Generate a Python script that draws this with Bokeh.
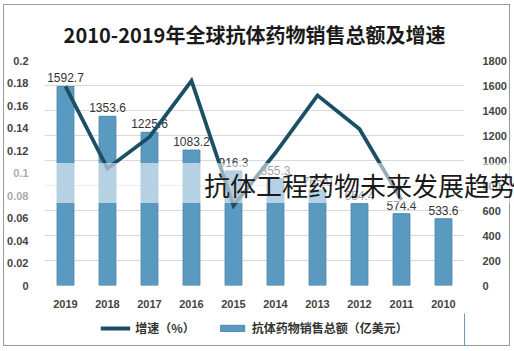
from bokeh.plotting import figure
from bokeh.layouts import column
from bokeh.models import (Range1d, LinearAxis, FixedTicker, ColumnDataSource, Legend,
                          LegendItem, FactorRange, Div)
from bokeh.core.properties import value
from bokeh.embed import file_html
from bokeh.resources import INLINE

# ---- data (layout of reference is mirrored: newest year on the left) ----
years = ["2019", "2018", "2017", "2016", "2015", "2014", "2013", "2012", "2011", "2010"]
sales = [1592.7, 1353.6, 1225.6, 1083.2, 916.3, 855.3, 765.0, 654.4, 574.4, 533.6]
growth_years = ["2019", "2018", "2017", "2016", "2015", "2014", "2013", "2012", "2011"]
growth = [0.177, 0.104, 0.132, 0.182, 0.071, 0.118, 0.169, 0.139, 0.076]
sales_ticks = [0, 200, 400, 600, 800, 1000, 1200, 1400, 1600, 1800]
growth_ticks = [0, 0.02, 0.04, 0.06, 0.08, 0.1, 0.12, 0.14, 0.16, 0.18, 0.2]
growth_tick_labels = ["0", "0.02", "0.04", "0.06", "0.08", "0.1", "0.12", "0.14", "0.16", "0.18", "0.2"]
title_text = "2010-2019年全球抗体药物销售总额及增速"
sales_name = "抗体药物销售总额（亿美元）"
growth_name = "增速（%）"
watermark = "抗体工程药物未来发展趋势"

BAR_FILL = "#5b9ac0"
BAR_LINE = "#4a87ab"
LINE_COLOR = "#1b4f66"

sales_labels = ["%.1f" % v for v in sales]
src = ColumnDataSource(dict(x=years, y=sales, lab=sales_labels))
gsrc = ColumnDataSource(dict(x=growth_years, y=growth))

p = figure(width=505, height=308, output_backend="svg", toolbar_location=None,
           x_range=FactorRange(factors=years, range_padding=0),
           y_range=Range1d(0, 1800), y_axis_location="right",
           min_border_left=39, min_border_right=43, min_border_top=52, min_border_bottom=28)
p.extra_y_ranges = {"g": Range1d(0, 0.2)}

p.title.text = title_text
p.title.align = "center"
p.title.text_font = "Noto Sans CJK SC"
p.title.text_font_size = "20px"
p.title.text_font_style = "bold"
p.title.text_color = "#1a1a1a"
p.title.standoff = 24

p.outline_line_color = None
p.xgrid.grid_line_color = None
p.ygrid.grid_line_color = "#d9d9d9"
p.ygrid.ticker = FixedTicker(ticks=sales_ticks)

# right axis (sales)
ra = p.yaxis[0]
ra.ticker = FixedTicker(ticks=sales_ticks)
ra.axis_line_color = None
ra.major_tick_line_color = None
ra.minor_tick_line_color = None
ra.major_label_text_font = "Liberation Sans"
ra.major_label_text_font_size = "11px"
ra.major_label_text_font_style = "bold"
ra.major_label_text_color = "#444444"
ra.major_label_standoff = 12

# left axis (growth)
la = LinearAxis(y_range_name="g", ticker=FixedTicker(ticks=growth_ticks),
                major_label_overrides={t: l for t, l in zip(growth_ticks, growth_tick_labels)})
la.axis_line_color = None
la.major_tick_line_color = None
la.minor_tick_line_color = None
la.major_label_text_font = "Liberation Sans"
la.major_label_text_font_size = "11px"
la.major_label_text_font_style = "bold"
la.major_label_text_color = "#444444"
la.major_label_standoff = 10
p.add_layout(la, "left")

xa = p.xaxis[0]
xa.axis_line_color = None
xa.major_tick_line_color = None
xa.minor_tick_line_color = None
xa.major_label_text_font = "Liberation Sans"
xa.major_label_text_font_size = "11px"
xa.major_label_text_font_style = "bold"
xa.major_label_text_color = "#444444"
xa.major_label_standoff = 8

bars = p.vbar(x="x", top="y", width=0.4, source=src, fill_color=BAR_FILL,
              line_color=BAR_LINE, line_width=1)
p.text(x="x", y="y", text="lab", source=src, text_align="center", text_baseline="bottom",
       y_offset=-4, text_font=value("Liberation Sans"), text_font_size="12px",
       text_color="#333333")
ln = p.line(x="x", y="y", source=gsrc, y_range_name="g", line_color=LINE_COLOR,
            line_width=3.8, line_join="miter")

# legend in a separate strip below
lg = figure(width=505, height=32, output_backend="svg", toolbar_location=None,
            x_range=Range1d(0, 1), y_range=Range1d(0, 1),
            min_border=0, outline_line_color=None)
lg.axis.visible = False
lg.grid.visible = False
hidden = ColumnDataSource(dict(x=[5, 6], y=[5, 5]))
l_ln = lg.line(x="x", y="y", source=hidden, line_color=LINE_COLOR, line_width=3.8)
l_bar = lg.vbar(x="x", top="y", width=0.1, source=hidden, fill_color=BAR_FILL,
                line_color=BAR_LINE)
legend = Legend(items=[LegendItem(label=growth_name, renderers=[l_ln]),
                       LegendItem(label=sales_name, renderers=[l_bar])],
                orientation="horizontal", location="top_center",
                label_text_font="Noto Sans CJK SC", label_text_font_size="12px",
                label_text_font_style="bold", label_text_color="#333333",
                glyph_width=30, glyph_height=8, spacing=22, padding=0, margin=6,
                border_line_color=None, background_fill_alpha=0)
lg.add_layout(legend)

# watermark overlay (band + text), positioned over the whole chart
band = Div(text="", width=514, height=40,
           styles={"position": "absolute", "left": "-4px", "top": "153px",
                   "background-color": "rgba(255,255,255,0.55)", "z-index": "10",
                   "pointer-events": "none"})
wm = Div(text=watermark, width=320, height=30,
         styles={"position": "absolute", "left": "195px", "top": "160px",
                 "font-family": "Noto Sans CJK SC", "font-size": "26px",
                 "line-height": "30px", "color": "#1a1a1a", "white-space": "nowrap",
                 "z-index": "11", "pointer-events": "none"})

layout = column(p, lg, band, wm, spacing=0,
                styles={"border": "1px solid #9a9a9a", "margin-left": "3px",
                        "margin-top": "4px", "position": "relative",
                        "overflow": "visible"})

open("out.html", "w").write(file_html(layout, INLINE))
